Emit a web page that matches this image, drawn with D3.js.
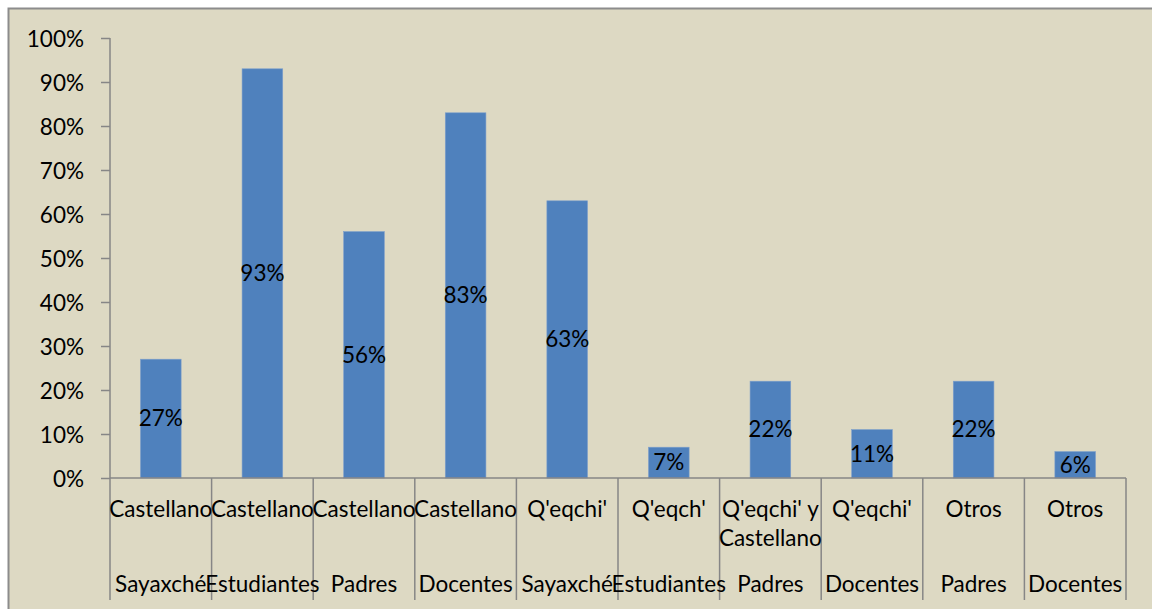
<!DOCTYPE html>
<html>
<head>
<meta charset="utf-8">
<script src="https://cdn.jsdelivr.net/npm/d3@7"></script>
<style>
  html, body { margin: 0; padding: 0; background: #ffffff; overflow: hidden; }
  svg { display: block; }
</style>
</head>
<body>
<div id="chart"></div>
<script>
// chart values
var values = [27, 93, 56, 83, 63, 7, 22, 11, 22, 6];
var languages = ['Castellano', 'Castellano', 'Castellano', 'Castellano', "Q'eqchi'",
  "Q'eqch'", "Q'eqchi' y\nCastellano", "Q'eqchi'", 'Otros', 'Otros'];
var groups = ['Sayaxché', 'Estudiantes', 'Padres', 'Docentes', 'Sayaxché',
  'Estudiantes', 'Padres', 'Docentes', 'Padres', 'Docentes'];
var yTicks = [0, 10, 20, 30, 40, 50, 60, 70, 80, 90, 100];

var width = 1152;
var height = 609;
var plot = { left: 110, right: 1126, top: 38, bottom: 478 };
var fontFamily = 'Lato, "Open Sans", sans-serif';
var axisColor = '#868686';

var svg = d3.select('#chart').append('svg')
  .attr('width', width)
  .attr('height', height);

// frame of the chart area, runs off the right and bottom of the window
svg.append('rect')
  .attr('x', 8.5).attr('y', 8.5)
  .attr('width', 1170).attr('height', 640)
  .attr('fill', '#ddd9c3')
  .attr('stroke', '#8c8c8c')
  .attr('stroke-width', 2);

// pick a font size so the labels are about as wide as in the picture
var probe = svg.append('text')
  .attr('font-family', fontFamily)
  .attr('font-size', 100)
  .text('Castellano');
var fontSize = 100 * 103 / probe.node().getComputedTextLength();
probe.remove();

var idx = d3.range(values.length);

var y = d3.scaleLinear()
  .domain([0, 100])
  .range([plot.bottom, plot.top]);

// one slot per category (used for the separators)
var slot = d3.scaleBand()
  .domain(idx)
  .range([plot.left, plot.right]);

// bars take 40% of each slot, centred
var x = d3.scaleBand()
  .domain(idx)
  .range([plot.left, plot.right])
  .paddingInner(0.6)
  .paddingOuter(0.3);

// y axis
var yAxis = svg.append('g')
  .attr('transform', 'translate(' + plot.left + ',0)')
  .call(d3.axisLeft(y).tickValues(yTicks).tickSize(9).tickPadding(17)
    .tickFormat(function (d) { return d + '%'; }));
yAxis.select('.domain').remove();
yAxis.selectAll('.tick line')
  .attr('stroke', axisColor).attr('stroke-width', 1.5);
yAxis.selectAll('.tick text')
  .attr('font-family', fontFamily)
  .attr('font-size', fontSize)
  .attr('fill', '#000')
  .attr('dy', '0.36em');

// bars
svg.append('g').selectAll('rect')
  .data(values)
  .enter().append('rect')
  .attr('x', function (d, i) { return x(i); })
  .attr('y', function (d) { return y(d); })
  .attr('width', x.bandwidth())
  .attr('height', function (d) { return y(0) - y(d); })
  .attr('fill', '#4f81bd')
  .attr('stroke', '#7d9fcb')
  .attr('stroke-width', 0.6);

// data labels, centred inside each bar
svg.append('g').selectAll('text')
  .data(values)
  .enter().append('text')
  .attr('x', function (d, i) { return x(i) + x.bandwidth() / 2; })
  .attr('y', function (d) { return (y(d) + y(0)) / 2 + fontSize * 0.35; })
  .attr('text-anchor', 'middle')
  .attr('font-family', fontFamily)
  .attr('font-size', fontSize)
  .attr('fill', '#000')
  .text(function (d) { return d + '%'; });

// axis lines
svg.append('line')
  .attr('x1', plot.left).attr('x2', plot.left)
  .attr('y1', plot.top).attr('y2', 600)
  .attr('stroke', axisColor).attr('stroke-width', 1.5);
svg.append('line')
  .attr('x1', plot.left).attr('x2', plot.right)
  .attr('y1', plot.bottom).attr('y2', plot.bottom)
  .attr('stroke', axisColor).attr('stroke-width', 1.5);

// category separators (both label rows)
svg.append('g').selectAll('line')
  .data(idx.slice(1).concat([values.length]))
  .enter().append('line')
  .attr('x1', function (i) { return i < values.length ? slot(i) : plot.right; })
  .attr('x2', function (i) { return i < values.length ? slot(i) : plot.right; })
  .attr('y1', plot.bottom)
  .attr('y2', 600)
  .attr('stroke', axisColor)
  .attr('stroke-width', 1.5);

// inner labels (language)
var inner = svg.append('g').selectAll('text')
  .data(languages)
  .enter().append('text')
  .attr('text-anchor', 'middle')
  .attr('font-family', fontFamily)
  .attr('font-size', fontSize)
  .attr('fill', '#000');
inner.each(function (d, i) {
  var t = d3.select(this);
  d.split('\n').forEach(function (line, k) {
    t.append('tspan')
      .attr('x', slot(i) + slot.bandwidth() / 2)
      .attr('y', 517 + k * 29)
      .text(line);
  });
});

// outer labels (group)
svg.append('g').selectAll('text')
  .data(groups)
  .enter().append('text')
  .attr('x', function (d, i) { return slot(i) + slot.bandwidth() / 2; })
  .attr('y', 592)
  .attr('text-anchor', 'middle')
  .attr('font-family', fontFamily)
  .attr('font-size', fontSize)
  .attr('fill', '#000')
  .text(function (d) { return d; });
</script>
</body>
</html>
